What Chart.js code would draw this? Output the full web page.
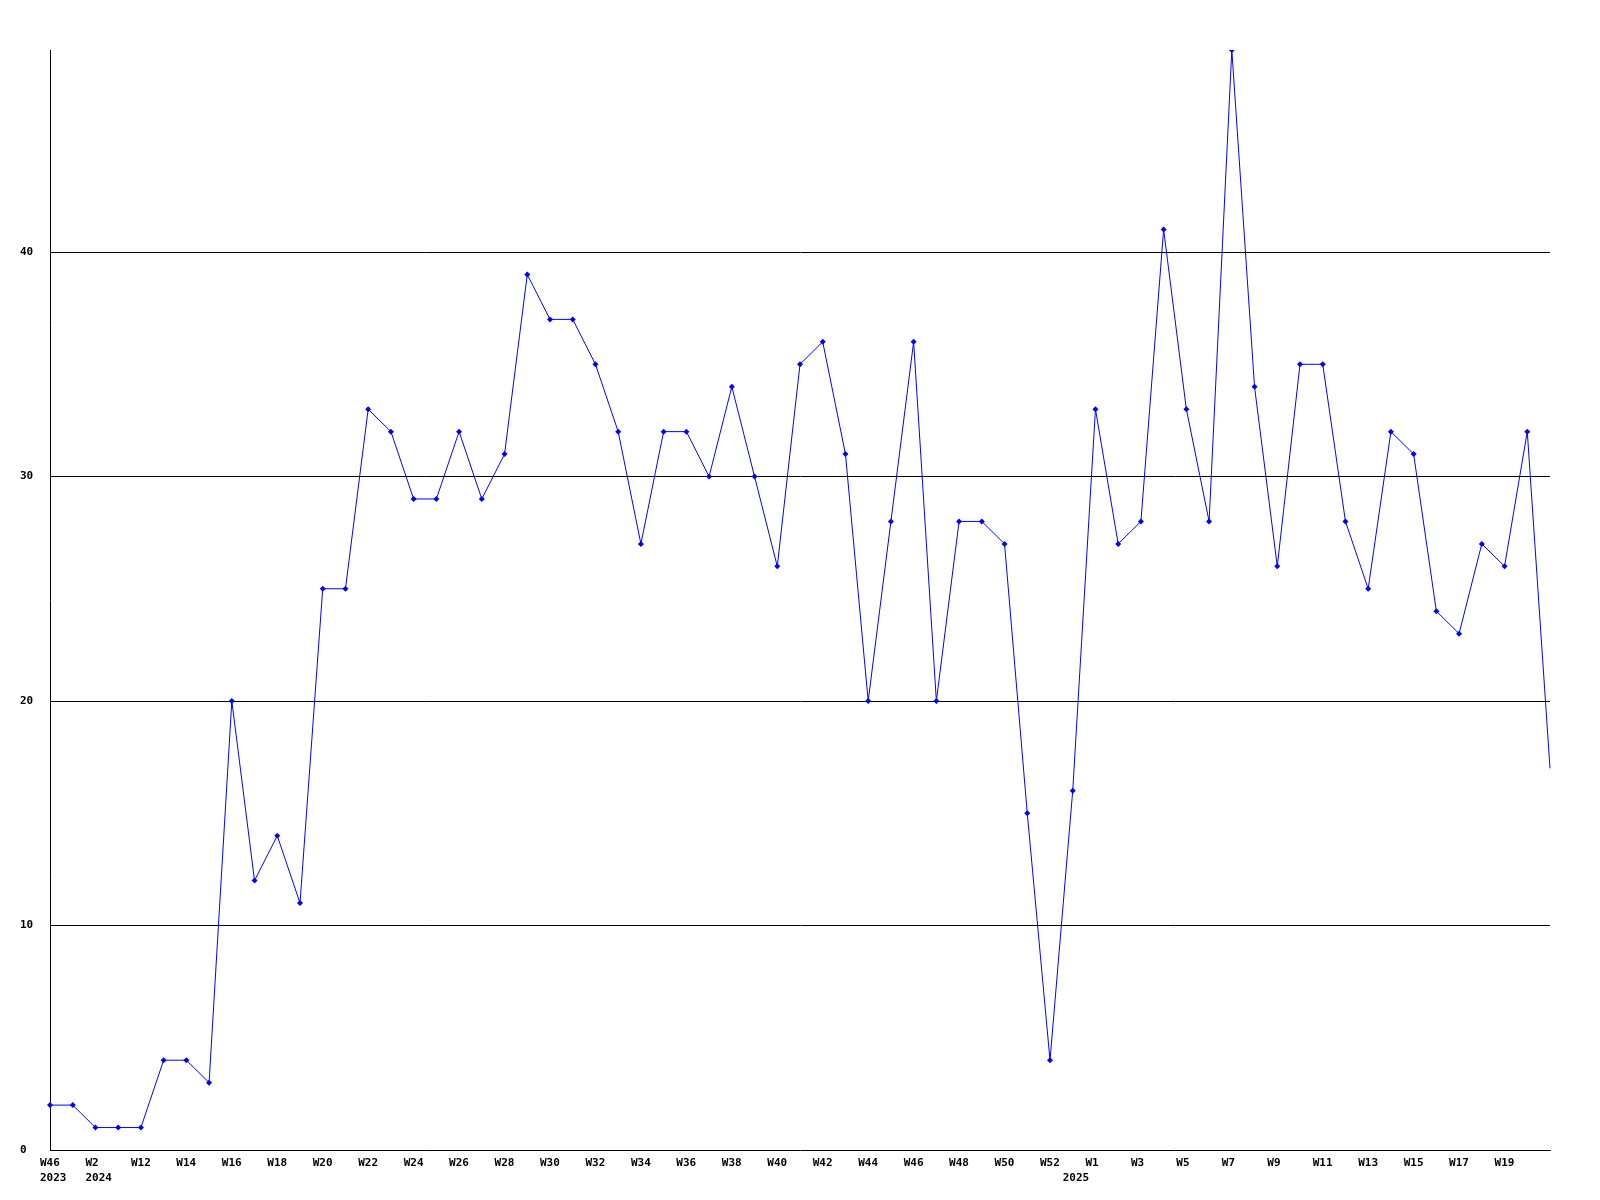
<!DOCTYPE html>
<html>
<head>
<meta charset="utf-8">
<script src="https://cdn.jsdelivr.net/npm/chart.js@4/dist/chart.umd.min.js"></script>
<style>
  html, body { margin: 0; padding: 0; background: #fff; }
  canvas { display: block; }
</style>
</head>
<body>
<canvas id="weekly" width="1600" height="1200"></canvas>
<script>
// week categories (only every other one gets a label on the axis)
const weeks = [
  "W46", "W47", "W2", "W11", "W12", "W13", "W14", "W15", "W16", "W17",
  "W18", "W19", "W20", "W21", "W22", "W23", "W24", "W25", "W26", "W27",
  "W28", "W29", "W30", "W31", "W32", "W33", "W34", "W35", "W36", "W37",
  "W38", "W39", "W40", "W41", "W42", "W43", "W44", "W45", "W46", "W47",
  "W48", "W49", "W50", "W51", "W52", "W53", "W1", "W2", "W3", "W4",
  "W5", "W6", "W7", "W8", "W9", "W10", "W11", "W12", "W13", "W14",
  "W15", "W16", "W17", "W18", "W19", "W20", "W21"
];
const yearLabels = ["2023", "2024", "2025"];
const yearIndex = [0, 2, 45];

const counts = [
  2, 2, 1, 1, 1, 4, 4, 3, 20, 12,
  14, 11, 25, 25, 33, 32, 29, 29, 32, 29,
  31, 39, 37, 37, 35, 32, 27, 32, 32, 30,
  34, 30, 26, 35, 36, 31, 20, 28, 36, 20,
  28, 28, 27, 15, 4, 16, 33, 27, 28, 41,
  33, 28, 49, 34, 26, 35, 35, 28, 25, 32,
  31, 24, 23, 27, 26, 32, 17
];
const yTicks = [0, 10, 20, 30, 40];

const FONT = { family: "'DejaVu Sans Mono', monospace", size: 11, weight: "bold", lineHeight: 1.36 };

new Chart(document.getElementById("weekly").getContext("2d"), {
  type: "line",
  data: {
    labels: weeks,
    datasets: [{
      data: counts,
      borderColor: "#0000ff",
      backgroundColor: "#0000ff",
      borderWidth: 1,
      tension: 0,
      pointStyle: "rectRot",
      pointRadius: ctx => ctx.dataIndex === counts.length - 1 ? 0 : 3,
      pointBorderWidth: 0,
      pointBackgroundColor: "#0000ff"
    }]
  },
  options: {
    responsive: false,
    animation: false,
    layout: { padding: { top: 50, left: 20, right: 50, bottom: 0 } },
    plugins: { legend: { display: false }, tooltip: { enabled: false } },
    scales: {
      x: {
        type: "category",
        offset: false,
        grid: { display: false, drawTicks: false },
        border: { display: true, color: "#000", width: 1 },
        afterFit: s => { s.height = 50; },
        ticks: {
          autoSkip: false,
          maxRotation: 0,
          minRotation: 0,
          align: "start",
          labelOffset: -10,
          padding: 6,
          color: "#000",
          font: FONT,
          callback: (value, index) => {
            const w = index % 2 === 0 && index < weeks.length - 1 ? weeks[index] : "";
            const yi = yearIndex.indexOf(index);
            return yi >= 0 ? [w || " ", yearLabels[yi]] : w;
          }
        }
      },
      y: {
        min: 0,
        max: 49,
        afterFit: s => { s.width = 30; },
        afterBuildTicks: s => { s.ticks = yTicks.map(v => ({ value: v })); },
        grid: {
          drawTicks: false,
          color: ctx => ctx.tick && ctx.tick.value === 0 ? "rgba(0,0,0,0)" : "#000",
          lineWidth: 1
        },
        border: { display: true, color: "#000", width: 1 },
        ticks: {
          crossAlign: "far",
          includeBounds: false,
          padding: 0,
          color: "#000",
          font: FONT
        }
      }
    }
  }
});
</script>
</body>
</html>
